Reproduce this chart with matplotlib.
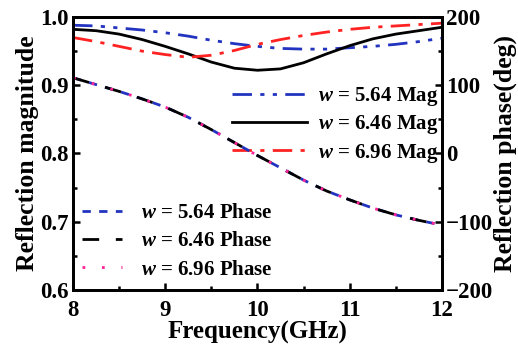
import numpy as np
import matplotlib
matplotlib.use("Agg")
import matplotlib.pyplot as plt
from matplotlib.ticker import MultipleLocator

plt.rcParams['font.family'] = ['Liberation Serif', 'DejaVu Serif']
plt.rcParams['font.weight'] = 'bold'
plt.rcParams['mathtext.fontset'] = 'custom'
plt.rcParams['mathtext.it'] = 'Liberation Serif:italic:bold'

freq = [8.0, 8.25, 8.5, 8.75, 9.0, 9.25, 9.5, 9.75, 10.0,
        10.25, 10.5, 10.75, 11.0, 11.25, 11.5, 11.75, 12.0]

# reflection magnitude
mag_564 = [0.988, 0.987, 0.984, 0.981, 0.977, 0.972, 0.966, 0.961, 0.957,
           0.954, 0.953, 0.953, 0.955, 0.957, 0.960, 0.964, 0.969]
mag_646 = [0.982, 0.980, 0.975, 0.967, 0.957, 0.946, 0.934, 0.925, 0.922,
           0.924, 0.933, 0.946, 0.958, 0.968, 0.975, 0.980, 0.985]
mag_696 = [0.970, 0.964, 0.957, 0.950, 0.945, 0.941, 0.944, 0.951, 0.960,
           0.967, 0.973, 0.978, 0.982, 0.985, 0.987, 0.989, 0.991]

# reflection phase (deg)
ph_564 = [111, 101, 91, 80, 68, 53, 35, 16, -3, -21, -39, -55, -68, -80, -90, -98, -105]
ph_646 = [111, 101, 91, 80, 68, 53, 35, 16, -3, -21, -39, -55, -68, -80, -90, -98, -105]
ph_696 = [111, 101, 91, 80, 68, 53, 35, 16, -3, -21, -39, -55, -68, -80, -90, -98, -105]

blue = '#2233c0'
red = '#ff2222'
pink = '#ff2299'

fig = plt.figure(figsize=(5.18, 3.48), dpi=100)
ax = fig.add_axes([0.141, 0.167, 0.712, 0.784])
ax2 = ax.twinx()

ax.plot(freq, mag_564, color=blue, lw=2, dashes=(7, 3, 1.5, 3, 1.5, 3), label=r'$w$ = 5.64 Mag')
ax.plot(freq, mag_646, color='black', lw=2, label=r'$w$ = 6.46 Mag')
ax.plot(freq, mag_696, color=red, lw=2, dashes=(7, 3, 1.5, 3), label=r'$w$ = 6.96 Mag')

ax2.plot(freq, ph_564, color=blue, lw=2, dashes=(3, 3), label=r'$w$ = 5.64 Phase')
ax2.plot(freq, ph_646, color='black', lw=2, dashes=(6, 6), label=r'$w$ = 6.46 Phase')
ax2.plot(freq, ph_696, color=pink, lw=2, dashes=(1, 6), label=r'$w$ = 6.96 Phase')

ax.set_xlim(8, 12)
ax.set_ylim(0.6, 1.0)
ax2.set_ylim(-200, 200)

ax.xaxis.set_major_locator(MultipleLocator(1))
ax.xaxis.set_minor_locator(MultipleLocator(0.5))
ax.yaxis.set_major_locator(MultipleLocator(0.1))
ax.yaxis.set_minor_locator(MultipleLocator(0.05))
ax2.yaxis.set_major_locator(MultipleLocator(100))
ax2.yaxis.set_minor_locator(MultipleLocator(50))
ax.yaxis.set_major_formatter(plt.FormatStrFormatter('%.1f'))

for a in (ax, ax2):
    a.tick_params(which='both', direction='in', labelsize=16.5, width=1.8, pad=3)
    a.tick_params(which='major', length=5)
    a.tick_params(which='minor', length=3)
    for s in a.spines.values():
        s.set_linewidth(2)
ax.tick_params(which='both', right=False, top=False)
ax.tick_params(axis='x', pad=7)

ax.set_xlabel('Frequency(GHz)', fontsize=18, fontweight='bold', labelpad=0)
ax.set_ylabel('Reflection magnitude', fontsize=18.5, fontweight='bold', labelpad=1)
ax2.set_ylabel('Reflection phase(deg)', fontsize=18.5, fontweight='bold', rotation=90, labelpad=0)

leg1 = ax.legend(loc='upper right', bbox_to_anchor=(0.99, 0.75), frameon=False,
                 fontsize=15, handlelength=3.6, handletextpad=0.5, labelspacing=0.25,
                 borderpad=0, borderaxespad=0)
leg2 = ax2.legend(loc='lower left', bbox_to_anchor=(0.025, 0.038), frameon=False,
                  fontsize=15, handlelength=1.9, handletextpad=0.9, labelspacing=0.4,
                  borderpad=0, borderaxespad=0)

fig.savefig('out.png', dpi=100)
